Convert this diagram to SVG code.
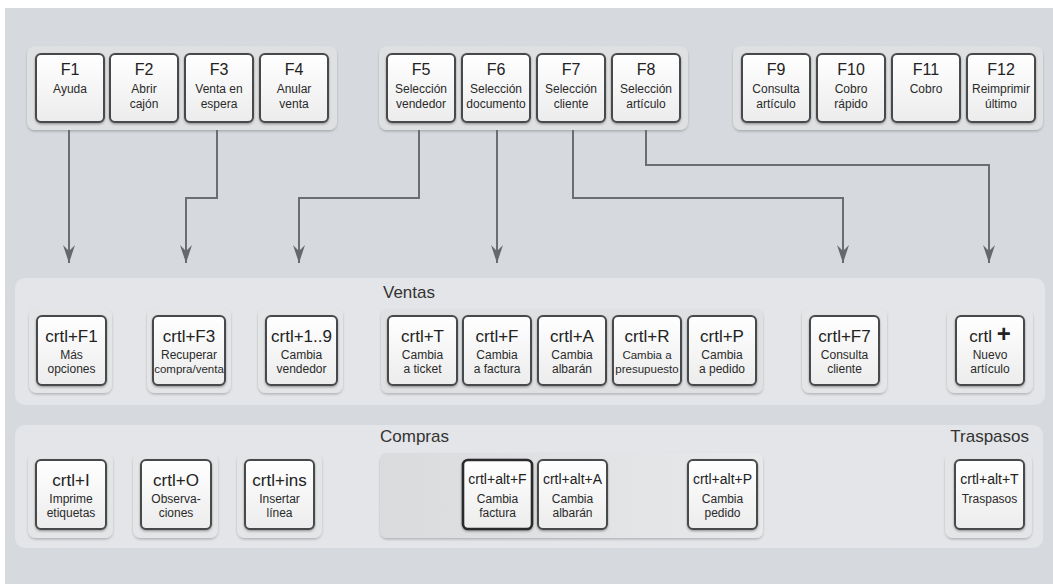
<svg xmlns="http://www.w3.org/2000/svg" width="1053" height="584" viewBox="0 0 1053 584">
<defs>
<style>
text{font-family:"Liberation Sans",Arial,sans-serif;text-anchor:middle;fill:#222}
.t{font-size:16px}
.tv{font-size:17px}
.tc{font-size:14px}
.s{font-size:12px;fill:#2a2a2a}
.ss{font-size:11.5px;fill:#2a2a2a}
.lbl{font-size:17px;text-anchor:start;fill:#333}
.key{fill:url(#kg);stroke:#46494c;stroke-width:2}
.sel{stroke:#2a2b2c;stroke-width:2.6}
.pad{fill:#e4e5e7;filter:url(#sh)}
.panel{fill:#dfe0e2;filter:url(#sh)}
.band{fill:#e3e5e8}
.con{fill:none;stroke:#6a6d71;stroke-width:2;marker-end:url(#ah)}
</style>
<linearGradient id="kg" x1="0" y1="0" x2="0" y2="1">
<stop offset="0" stop-color="#ffffff"/>
<stop offset="1" stop-color="#ececec"/>
</linearGradient>
<linearGradient id="cg" x1="0" y1="0" x2="1" y2="0">
<stop offset="0" stop-color="#dadbdd"/>
<stop offset="1" stop-color="#e8e9ea"/>
</linearGradient>
<filter id="sh" x="-10%" y="-10%" width="120%" height="130%">
<feDropShadow dx="0" dy="1.5" stdDeviation="1.2" flood-color="#000" flood-opacity="0.22"/>
</filter>
<filter id="ks" x="-10%" y="-10%" width="120%" height="130%">
<feDropShadow dx="0" dy="1.2" stdDeviation="0.8" flood-color="#000" flood-opacity="0.35"/>
</filter>
<filter id="noise" x="0" y="0" width="100%" height="100%">
<feTurbulence type="fractalNoise" baseFrequency="0.9" numOctaves="2" seed="3"/>
<feColorMatrix type="matrix" values="0 0 0 0 0.5  0 0 0 0 0.5  0 0 0 0 0.5  0 0 0 0.07 0"/>
</filter>
<marker id="ah" markerWidth="20" markerHeight="14" refX="0" refY="0" viewBox="-19 -7 20 14" orient="auto" markerUnits="userSpaceOnUse">
<path d="M0,0 L-18,-6 L-12,0 L-18,6 Z" fill="#65686c"/>
</marker>
</defs>

<rect x="0" y="0" width="1053" height="584" fill="#ffffff"/>
<rect x="5" y="8" width="1048" height="576" fill="#d7dbdf"/>
<rect x="5" y="8" width="1048" height="576" filter="url(#noise)"/>

<g id="bands">
<rect class="band" x="15" y="278" width="1030" height="127" rx="10"/>
<rect class="band" x="15" y="425" width="1028" height="123" rx="10"/>
</g>

<g id="panels">
<rect class="panel" x="27" y="46" width="310" height="84" rx="8"/>
<rect class="panel" x="379" y="46" width="309" height="84" rx="8"/>
<rect class="panel" x="733" y="46" width="310" height="84" rx="8"/>
<rect class="panel" x="381" y="309" width="382" height="84" rx="7"/>
<rect x="380" y="453" width="383" height="85" rx="7" fill="url(#cg)" filter="url(#sh)"/>
<rect class="pad" x="29" y="308" width="83" height="85" rx="8"/>
<rect class="pad" x="147" y="308" width="84" height="85" rx="8"/>
<rect class="pad" x="258" y="308" width="85" height="85" rx="8"/>
<rect class="pad" x="802" y="308" width="85" height="85" rx="8"/>
<rect class="pad" x="947" y="308" width="86" height="85" rx="8"/>
<rect class="pad" x="28" y="453" width="85" height="85" rx="8"/>
<rect class="pad" x="133" y="453" width="85" height="85" rx="8"/>
<rect class="pad" x="237" y="453" width="85" height="85" rx="8"/>
<rect class="pad" x="945" y="453" width="87" height="85" rx="8"/>
</g>

<g id="labels">
<text class="lbl" x="383" y="298">Ventas</text>
<text class="lbl" x="380" y="442">Compras</text>
<text class="lbl" x="1029" y="442" style="text-anchor:end">Traspasos</text>
</g>

<g id="connectors">
<path class="con" d="M69,130 V263"/>
<path class="con" d="M217,130 V198 H186 V263"/>
<path class="con" d="M419,130 V198 H299 V263"/>
<path class="con" d="M497,130 V263"/>
<path class="con" d="M573,130 V198 H843 V263"/>
<path class="con" d="M646,130 V165 H989 V263"/>
</g>

<g id="F1"><rect class="key" filter="url(#ks)" x="36" y="54" width="68" height="68" rx="5"/><text class="t" x="70" y="75">F1</text><text class="s" x="70" y="93">Ayuda</text></g>
<g id="F2"><rect class="key" filter="url(#ks)" x="110" y="54" width="68" height="68" rx="5"/><text class="t" x="144" y="75">F2</text><text class="s" x="144" y="93">Abrir</text><text class="s" x="144" y="108">cajón</text></g>
<g id="F3"><rect class="key" filter="url(#ks)" x="185" y="54" width="68" height="68" rx="5"/><text class="t" x="219" y="75">F3</text><text class="s" x="219" y="93">Venta en</text><text class="s" x="219" y="108">espera</text></g>
<g id="F4"><rect class="key" filter="url(#ks)" x="260" y="54" width="68" height="68" rx="5"/><text class="t" x="294" y="75">F4</text><text class="s" x="294" y="93">Anular</text><text class="s" x="294" y="108">venta</text></g>

<g id="F5"><rect class="key" filter="url(#ks)" x="387" y="54" width="68" height="68" rx="5"/><text class="t" x="421" y="75">F5</text><text class="s" x="421" y="93">Selección</text><text class="s" x="421" y="108">vendedor</text></g>
<g id="F6"><rect class="key" filter="url(#ks)" x="462" y="54" width="68" height="68" rx="5"/><text class="t" x="496" y="75">F6</text><text class="s" x="496" y="93">Selección</text><text class="s" x="496" y="108">documento</text></g>
<g id="F7"><rect class="key" filter="url(#ks)" x="537" y="54" width="68" height="68" rx="5"/><text class="t" x="571" y="75">F7</text><text class="s" x="571" y="93">Selección</text><text class="s" x="571" y="108">cliente</text></g>
<g id="F8"><rect class="key" filter="url(#ks)" x="612" y="54" width="68" height="68" rx="5"/><text class="t" x="646" y="75">F8</text><text class="s" x="646" y="93">Selección</text><text class="s" x="646" y="108">artículo</text></g>

<g id="F9"><rect class="key" filter="url(#ks)" x="742" y="54" width="68" height="68" rx="5"/><text class="t" x="776" y="75">F9</text><text class="s" x="776" y="93">Consulta</text><text class="s" x="776" y="108">artículo</text></g>
<g id="F10"><rect class="key" filter="url(#ks)" x="817" y="54" width="68" height="68" rx="5"/><text class="t" x="851" y="75">F10</text><text class="s" x="851" y="93">Cobro</text><text class="s" x="851" y="108">rápido</text></g>
<g id="F11"><rect class="key" filter="url(#ks)" x="892" y="54" width="68" height="68" rx="5"/><text class="t" x="926" y="75">F11</text><text class="s" x="926" y="93">Cobro</text></g>
<g id="F12"><rect class="key" filter="url(#ks)" x="967" y="54" width="68" height="68" rx="5"/><text class="t" x="1001" y="75">F12</text><text class="s" x="1001" y="93">Reimprimir</text><text class="s" x="1001" y="108">último</text></g>

<g id="crtlF1"><rect class="key" filter="url(#ks)" x="37" y="316" width="69" height="69" rx="5"/><text class="tv" x="71.5" y="342">crtl+F1</text><text class="s" x="71.5" y="359">Más</text><text class="s" x="71.5" y="373">opciones</text></g>
<g id="crtlF3"><rect class="key" filter="url(#ks)" x="153" y="316" width="72" height="69" rx="5"/><text class="tv" x="189" y="342">crtl+F3</text><text class="s" x="189" y="359">Recuperar</text><text class="ss" x="189" y="373">compra/venta</text></g>
<g id="crtl19"><rect class="key" filter="url(#ks)" x="266" y="316" width="71" height="69" rx="5"/><text class="tv" x="301.5" y="342">crtl+1..9</text><text class="s" x="301.5" y="359">Cambia</text><text class="s" x="301.5" y="373">vendedor</text></g>

<g id="crtlT"><rect class="key" filter="url(#ks)" x="388" y="316" width="69" height="69" rx="5"/><text class="tv" x="422.5" y="342">crtl+T</text><text class="s" x="422.5" y="359">Cambia</text><text class="s" x="422.5" y="373">a ticket</text></g>
<g id="crtlF"><rect class="key" filter="url(#ks)" x="463" y="316" width="68" height="69" rx="5"/><text class="tv" x="497" y="342">crtl+F</text><text class="s" x="497" y="359">Cambia</text><text class="s" x="497" y="373">a factura</text></g>
<g id="crtlA"><rect class="key" filter="url(#ks)" x="538" y="316" width="68" height="69" rx="5"/><text class="tv" x="572" y="342">crtl+A</text><text class="s" x="572" y="359">Cambia</text><text class="s" x="572" y="373">albarán</text></g>
<g id="crtlR"><rect class="key" filter="url(#ks)" x="613" y="316" width="68" height="69" rx="5"/><text class="tv" x="647" y="342">crtl+R</text><text class="ss" x="647" y="359">Cambia a</text><text class="ss" x="647" y="373">presupuesto</text></g>
<g id="crtlP"><rect class="key" filter="url(#ks)" x="688" y="316" width="68" height="69" rx="5"/><text class="tv" x="722" y="342">crtl+P</text><text class="s" x="722" y="359">Cambia</text><text class="s" x="722" y="373">a pedido</text></g>

<g id="crtlF7"><rect class="key" filter="url(#ks)" x="810" y="316" width="69" height="69" rx="5"/><text class="tv" x="844.5" y="342">crtl+F7</text><text class="s" x="844.5" y="359">Consulta</text><text class="s" x="844.5" y="373">cliente</text></g>
<g id="crtlPlus"><rect class="key" filter="url(#ks)" x="956" y="316" width="68" height="69" rx="5"/><text class="tv" x="990" y="342">crtl <tspan style="font-size:24px;font-weight:bold">+</tspan></text><text class="s" x="990" y="359">Nuevo</text><text class="s" x="990" y="373">artículo</text></g>

<g id="crtlI"><rect class="key" filter="url(#ks)" x="36" y="460" width="70" height="69" rx="5"/><text class="tv" x="71" y="486">crtl+I</text><text class="s" x="71" y="503">Imprime</text><text class="s" x="71" y="517">etiquetas</text></g>
<g id="crtlO"><rect class="key" filter="url(#ks)" x="141" y="460" width="70" height="69" rx="5"/><text class="tv" x="176" y="486">crtl+O</text><text class="s" x="176" y="503">Observa-</text><text class="s" x="176" y="517">ciones</text></g>
<g id="crtlIns"><rect class="key" filter="url(#ks)" x="245" y="460" width="69" height="69" rx="5"/><text class="tv" x="279.5" y="486">crtl+ins</text><text class="s" x="279.5" y="503">Insertar</text><text class="s" x="279.5" y="517">línea</text></g>

<g id="crtlAltF"><rect class="key sel" filter="url(#ks)" x="463" y="460" width="69" height="69" rx="5"/><text class="tc" x="497.5" y="484">crtl+alt+F</text><text class="s" x="497.5" y="503">Cambia</text><text class="s" x="497.5" y="517">factura</text></g>
<g id="crtlAltA"><rect class="key" filter="url(#ks)" x="538" y="460" width="69" height="69" rx="5"/><text class="tc" x="572.5" y="484">crtl+alt+A</text><text class="s" x="572.5" y="503">Cambia</text><text class="s" x="572.5" y="517">albarán</text></g>
<g id="crtlAltP"><rect class="key" filter="url(#ks)" x="688" y="460" width="69" height="69" rx="5"/><text class="tc" x="722.5" y="484">crtl+alt+P</text><text class="s" x="722.5" y="503">Cambia</text><text class="s" x="722.5" y="517">pedido</text></g>

<g id="crtlAltT"><rect class="key" filter="url(#ks)" x="955" y="460" width="69" height="69" rx="5"/><text class="tc" x="989.5" y="484">crtl+alt+T</text><text class="s" x="989.5" y="503">Traspasos</text></g>
</svg>
